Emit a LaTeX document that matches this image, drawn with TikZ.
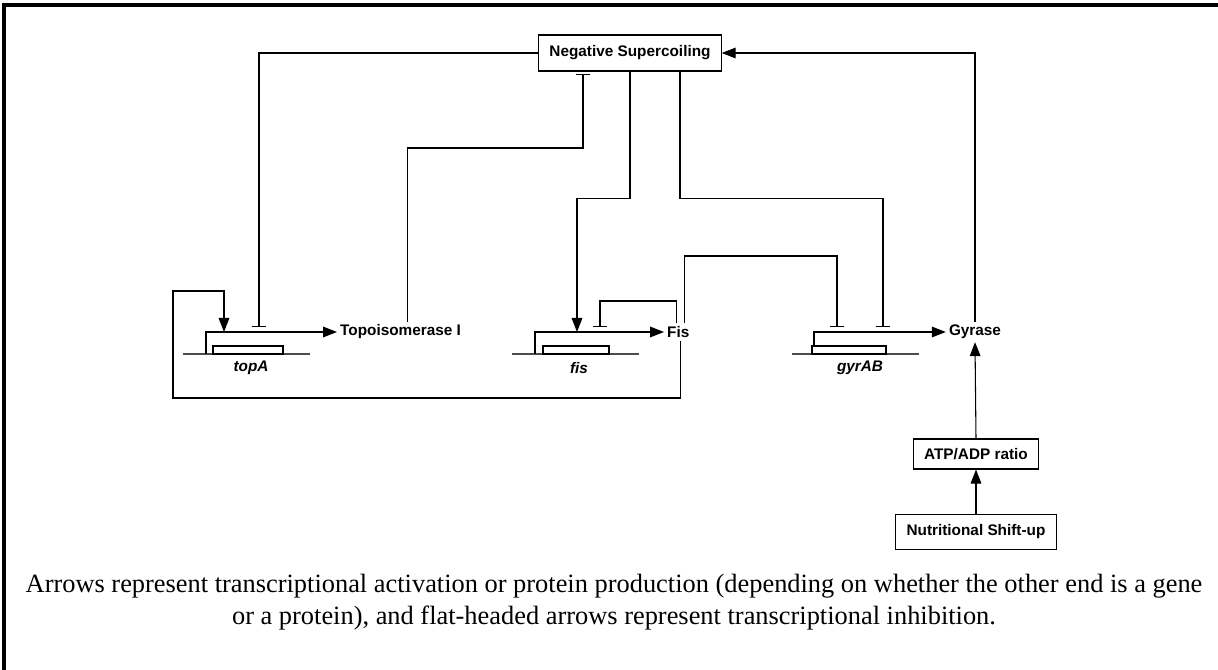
\documentclass[tikz,border=0pt]{standalone}
\usepackage{fontspec}
\newfontfamily\diagfont{Liberation Sans}
\newfontfamily\capfont{Liberation Serif}
\usetikzlibrary{arrows.meta,calc,positioning}

\def\lw{0.8pt}
\def\basey{354}

\begin{document}
\begin{tikzpicture}[x=0.75pt,y=-0.75pt,line width=\lw,
  lbl/.style={font=\diagfont\bfseries\fontsize{11.5}{13}\selectfont,inner sep=2pt},
  genelbl/.style={font=\diagfont\bfseries\itshape\fontsize{11.5}{13}\selectfont,inner sep=1pt},
  boxed/.style={lbl,draw,fill=white,inner xsep=8pt,inner ysep=5pt},
  act/.style={-{Triangle[length=10.5pt,width=8pt]}},
  inh/.style={-{Bar[width=10pt]}},
  dna/.style={black!70,line width=1pt},
  body/.style={draw,fill=white,line width=\lw}]
  \useasboundingbox (0,0) rectangle (1218,670);
  % frame
  \draw[line width=2.5pt] (4,670) -- (4,5) -- (1218,5);

  \node[boxed,minimum height=27pt] (ns) at (630,53) {Negative Supercoiling};
  \node[boxed,minimum height=22.5pt] (atp) at (976,454) {ATP/ADP ratio};
  \node[boxed,minimum height=26pt] (shift) at (976,532) {Nutritional Shift-up};

  \node[lbl,anchor=west] (topo) at (337,332) {Topoisomerase I};
  \node[lbl,anchor=west] (fisp) at (664,332) {Fis};
  \node[lbl] (gyr) at (975,332) {Gyrase};

  % targets on the promoters
  \coordinate (topAact) at (224,332);
  \coordinate (topAinh) at (259,327);
  \coordinate (fisact) at (577,332);
  \coordinate (fisinh) at (600,327);
  \coordinate (gyrinhA) at (837,327);
  \coordinate (gyrinhB) at (883,327);
  % corners
  \coordinate (k1) at (583,148);
  \coordinate (fisup) at (837,256);
  \coordinate (fisloop) at (600,301);
  \coordinate (loopb) at (173,398);
  \coordinate (loopt) at (173,291);

  % genes
  \foreach \l/\r/\bl/\br/\px/\lx/\nm/\prot in {183/310/213/283/206/251/topA/topo,
      512/639/543/609/535/579/fis/fisp, 792/919/812/886/814/860/gyrAB/gyr}{
    \draw[dna] (\l,\basey) -- (\r,\basey);
    \draw[act] (\px,\basey) |- (\prot.west);
    \draw[body] (\bl,346) rectangle (\br,\basey);
    \node[genelbl] (\nm) at (\lx,368) {\nm};
  }

  \draw[inh] (ns.west) -| (topAinh);
  \draw[inh] ($(topo.north)+(7,0)$) |- (k1) -- ($(k1 |- ns.south)+(0,2)$);
  \draw[act] (ns.south) -- ++(0,127) -| (fisact);
  \draw[inh] ($(ns.south)+(50,0)$) -- ++(0,127) -| (gyrinhB);
  \draw[inh] ($(fisp.north)+(6,0)$) |- (fisup) -- (gyrinhA);
  \draw[inh] ($(fisp.north)+(-2,0)$) |- (fisloop) -- (fisinh);
  \draw[act] ($(fisp.south)+(2,0)$) |- (loopb) -- (loopt) -| (topAact);
  \draw[act] (gyr.north) |- (ns.east);
  \draw[act] (atp.north) -- (gyr.south);
  \draw[act] (shift.north) -- (atp.south);

  \node[font=\capfont\fontsize{19.8}{23.5}\selectfont,align=center] (note) at (614,602)
    {Arrows represent transcriptional activation or protein production (depending on whether the other end is a gene\\
     or a protein), and flat-headed arrows represent transcriptional inhibition.};
\end{tikzpicture}
\end{document}
